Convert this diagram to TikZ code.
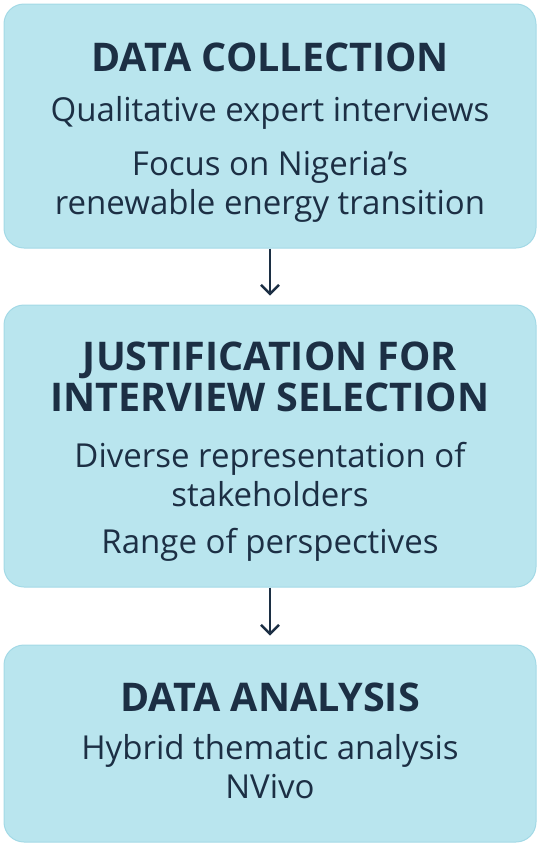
\documentclass[tikz,border=0pt]{standalone}
\usepackage{fontspec}
\setmainfont{Open Sans}
\usetikzlibrary{arrows.meta,positioning}
\definecolor{boxFill}{HTML}{B9E5EE}
\definecolor{boxLine}{HTML}{A3D9E6}
\definecolor{inkNavy}{HTML}{1C2F44}
\tikzset{
  stagebox/.style={draw=boxLine, fill=boxFill, line width=1pt, rounded corners=20pt,
    minimum width=532pt, inner sep=0pt},
  headtext/.style={text=inkNavy, font=\fontsize{39.5}{41}\selectfont\bfseries, align=center},
  bodytext/.style={text=inkNavy, font=\fontsize{33}{39}\selectfont, align=center},
  flowarrow/.style={-{Straight Barb[length=9pt,width=18pt]}, line width=2.4pt, draw=inkNavy}
}
\begin{document}
\begin{tikzpicture}[x=1pt,y=-1pt]
  \useasboundingbox (0,0) rectangle (542,846);
  % Boxes
  \node[stagebox, minimum height=244pt] (collect) at (270,126) {};
  \node[stagebox, minimum height=282pt] (justify) at (270,446) {};
  \node[stagebox, minimum height=197pt] (analyse) at (270,743.5) {};
  % Data collection
  \node[headtext] (collectHead) at (270,57) {DATA COLLECTION};
  \node[bodytext] (collectA) at (270,113) {Qualitative expert interviews};
  \node[bodytext] (collectB) at (270,187) {Focus on Nigeria’s\\renewable energy transition};
  % Justification
  \node[headtext] (justifyHead) at (270,377) {JUSTIFICATION FOR\\INTERVIEW SELECTION};
  \node[bodytext] (justifyA) at (270,475) {Diverse representation of\\stakeholders};
  \node[bodytext] (justifyB) at (270,545) {Range of perspectives};
  % Data analysis
  \node[headtext] (analyseHead) at (270,697) {DATA ANALYSIS};
  \node[bodytext] (analyseA) at (270,767) {Hybrid thematic analysis\\NVivo};
  % Arrows
  \draw[flowarrow, shorten >=9pt] (collect.south) -- (justify.north);
  \draw[flowarrow, shorten >=9pt] (justify.south) -- (analyse.north);
\end{tikzpicture}
\end{document}
